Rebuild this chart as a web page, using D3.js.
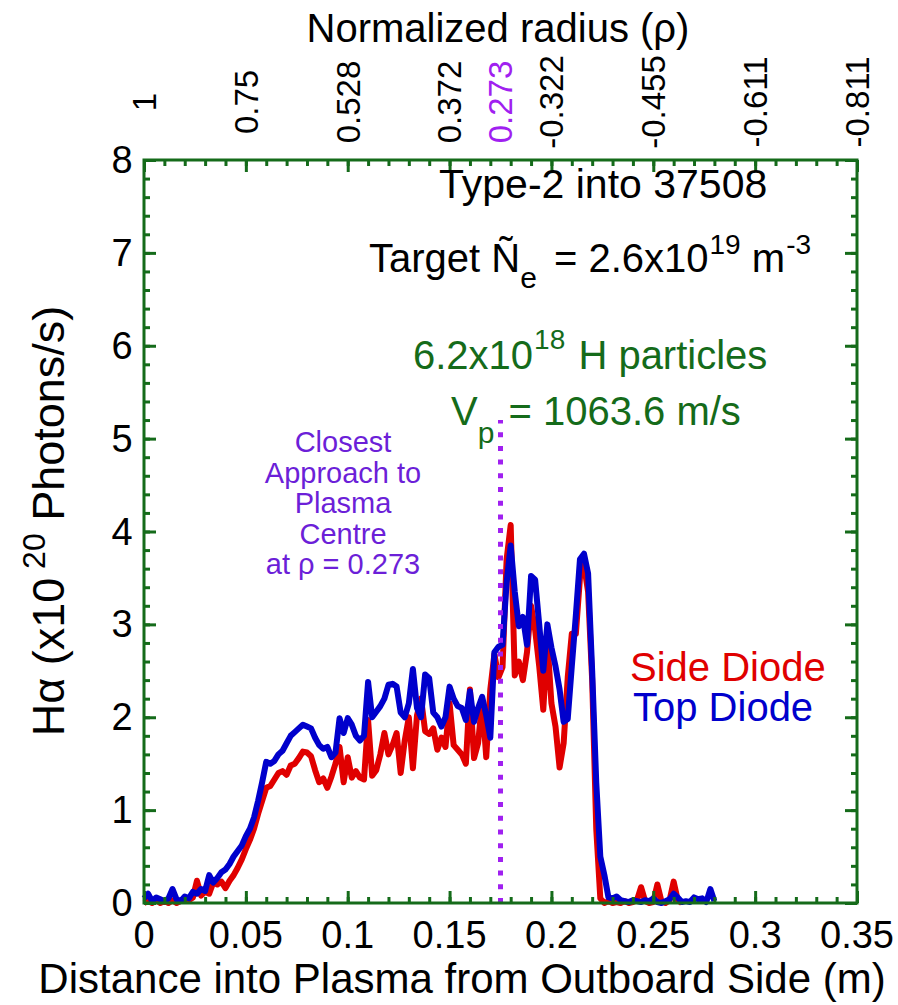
<!DOCTYPE html>
<html>
<head>
<meta charset="utf-8">
<script src="https://cdn.jsdelivr.net/npm/d3@7"></script>
<style>
  html, body { margin: 0; padding: 0; background: #ffffff; }
  svg { display: block; }
  text { font-family: "Liberation Sans", Arial, Helvetica, sans-serif; }
</style>
</head>
<body>
<svg id="chart" width="898" height="1005"></svg>
<script>
// Sample positions along the chord (m), shared by both diode traces
const distance = [
  0.000,0.002,0.004,0.006,0.008,0.010,0.012,0.014,0.016,0.018,
  0.020,0.022,0.024,0.026,0.028,0.030,0.032,0.034,0.036,0.038,
  0.040,0.042,0.044,0.046,0.048,0.050,0.052,0.054,0.056,0.058,
  0.060,0.062,0.064,0.066,0.068,0.070,0.072,0.074,0.076,0.078,
  0.080,0.082,0.084,0.086,0.088,0.090,0.092,0.094,0.096,0.098,
  0.100,0.102,0.104,0.106,0.108,0.110,0.112,0.114,0.116,0.118,
  0.120,0.122,0.124,0.126,0.128,0.130,0.132,0.134,0.136,0.138,
  0.140,0.142,0.144,0.146,0.148,0.150,0.152,0.154,0.156,0.158,
  0.160,0.162,0.164,0.166,0.168,0.170,0.172,0.174,0.176,0.178,
  0.180,0.182,0.184,0.186,0.188,0.190,0.192,0.194,0.196,0.198,
  0.200,0.202,0.204,0.206,0.208,0.210,0.212,0.214,0.216,0.218,
  0.220,0.222,0.224,0.226,0.228,0.230,0.232,0.234,0.236,0.238,
  0.240,0.242,0.244,0.246,0.248,0.250,0.252,0.254,0.256,0.258,
  0.260,0.262,0.264,0.266,0.268,0.270,0.272,0.274,0.276,0.278,
  0.280
];

// H-alpha emission, side-viewing diode (x10^20 photons/s)
const sideDiode = [
  0.00,0.02,0.00,0.03,0.00,0.02,0.00,0.03,0.00,0.02,
  0.05,0.03,0.06,0.24,0.08,0.12,0.10,0.22,0.20,0.23,
  0.16,0.24,0.30,0.38,0.47,0.58,0.68,0.80,0.96,1.10,
  1.24,1.26,1.33,1.40,1.42,1.38,1.48,1.50,1.56,1.63,
  1.62,1.58,1.43,1.30,1.34,1.24,1.36,1.50,1.68,1.30,
  1.57,1.35,1.42,1.35,1.33,1.97,1.37,1.43,1.60,1.83,
  1.60,1.70,1.83,1.40,1.75,2.00,1.45,2.02,2.20,1.85,
  1.82,1.88,1.65,1.78,1.68,2.15,1.70,1.65,1.60,1.50,
  2.30,1.56,1.72,2.18,1.57,2.30,2.68,2.43,2.54,3.70,
  4.07,2.45,2.60,2.40,2.70,3.20,2.94,2.55,2.08,2.83,
  2.15,1.90,1.46,1.72,2.43,2.90,2.90,3.50,3.64,3.35,
  2.40,0.80,0.05,0.00,0.02,0.00,0.01,0.00,0.02,0.00,
  0.01,0.03,0.17,0.02,0.00,0.01,0.20,0.02,0.00,0.03,
  0.23,0.03,0.00
];

// H-alpha emission, top-viewing diode (x10^20 photons/s)
const topDiode = [
  0.05,0.10,0.02,0.06,0.04,0.02,0.05,0.15,0.04,0.02,
  0.07,0.05,0.12,0.10,0.15,0.13,0.30,0.22,0.27,0.33,
  0.36,0.42,0.50,0.56,0.62,0.72,0.80,0.92,1.10,1.30,
  1.52,1.50,1.53,1.60,1.64,1.72,1.80,1.84,1.88,1.92,
  1.90,1.88,1.78,1.70,1.66,1.68,1.57,1.62,1.99,1.83,
  1.99,1.92,1.80,1.75,1.80,2.38,2.00,2.06,2.12,2.20,
  2.35,2.36,2.33,2.05,2.00,2.15,2.52,2.10,2.00,2.46,
  2.42,2.05,2.00,1.90,2.00,2.33,2.20,2.12,2.10,1.97,
  2.28,1.95,2.10,2.22,2.02,1.78,2.70,2.76,2.78,3.45,
  3.85,3.35,2.98,3.08,2.78,3.52,3.48,3.00,2.50,3.00,
  2.75,2.55,2.30,1.95,1.98,2.55,3.10,3.70,3.76,3.55,
  2.50,1.30,0.50,0.30,0.06,0.05,0.07,0.03,0.02,0.01,
  0.03,0.02,0.01,0.03,0.02,0.05,0.01,0.00,0.02,0.04,
  0.10,0.06,0.01,0.02,0.01,0.06,0.04,0.05,0.01,0.15,
  0.02
];

// Bottom axis ticks (m) and left/right axis ticks
const distanceTicks = [0, 0.05, 0.1, 0.15, 0.2, 0.25, 0.3, 0.35];
const distanceTickLabels = ["0", "0.05", "0.1", "0.15", "0.2", "0.25", "0.3", "0.35"];
const emissionTicks = [0, 1, 2, 3, 4, 5, 6, 7, 8];

// Normalized radius read along the top axis
const rhoTickDistance = [0, 0.05, 0.1, 0.15, 0.175, 0.2, 0.25, 0.3, 0.35];
const rhoTickLabels = ["1", "0.75", "0.528", "0.372", "0.273", "-0.322", "-0.455", "-0.611", "-0.811"];

// Closest approach of the pellet to the plasma centre
const closestApproach = 0.175;
const closestApproachTop = 5.2;

const seriesNames = ["Side Diode", "Top Diode"];

const AXIS = "#156b1a";
const RED = "#e00000";
const BLUE = "#0000cc";
const PURPLE = "#a020f0";
const VIOLET = "#6c1fd8";
const GREEN = "#156b1a";

const svg = d3.select("#chart");
const plot = { left: 144, right: 857, top: 160, bottom: 903 };

const x = d3.scaleLinear().domain([0, 0.35]).range([plot.left, plot.right]);
const y = d3.scaleLinear().domain([0, 8]).range([plot.bottom, plot.top]);

// Traces
const line = d3.line().x(d => x(d[0])).y(d => y(d[1]));
const sidePts = sideDiode.map((v, i) => [distance[i], v]);
const topPts = topDiode.map((v, i) => [distance[i], v]);

svg.append("path").datum(sidePts).attr("d", line)
  .attr("fill", "none").attr("stroke", RED).attr("stroke-width", 6)
  .attr("stroke-linejoin", "round");
svg.append("path").datum(topPts).attr("d", line)
  .attr("fill", "none").attr("stroke", BLUE).attr("stroke-width", 6)
  .attr("stroke-linejoin", "round");

// Dotted marker for the closest approach
svg.append("line")
  .attr("x1", x(closestApproach)).attr("x2", x(closestApproach))
  .attr("y1", y(0)).attr("y2", y(closestApproachTop))
  .attr("stroke", PURPLE).attr("stroke-width", 5)
  .attr("stroke-dasharray", "5,8.7");

// Axes (ticks point inward on all four sides)
const minorX = d3.range(0, 0.3501, 0.01);
const minorY = d3.range(0, 8.001, 0.2);

const gB = svg.append("g").attr("transform", `translate(0,${plot.bottom})`)
  .call(d3.axisBottom(x).tickValues(minorX).tickSize(-6).tickFormat(""));
const gT = svg.append("g").attr("transform", `translate(0,${plot.top})`)
  .call(d3.axisTop(x).tickValues(minorX).tickSize(-6).tickFormat(""));
const gL = svg.append("g").attr("transform", `translate(${plot.left},0)`)
  .call(d3.axisLeft(y).tickValues(minorY).tickSize(-6).tickFormat(""));
const gR = svg.append("g").attr("transform", `translate(${plot.right},0)`)
  .call(d3.axisRight(y).tickValues(minorY).tickSize(-6).tickFormat(""));

const gBM = svg.append("g").attr("transform", `translate(0,${plot.bottom})`)
  .call(d3.axisBottom(x).tickValues(distanceTicks).tickSize(-12).tickFormat(""));
const gTM = svg.append("g").attr("transform", `translate(0,${plot.top})`)
  .call(d3.axisTop(x).tickValues(distanceTicks).tickSize(-12).tickFormat(""));
const gLM = svg.append("g").attr("transform", `translate(${plot.left},0)`)
  .call(d3.axisLeft(y).tickValues(emissionTicks).tickSize(-12).tickFormat(""));
const gRM = svg.append("g").attr("transform", `translate(${plot.right},0)`)
  .call(d3.axisRight(y).tickValues(emissionTicks).tickSize(-12).tickFormat(""));

[gB, gT, gL, gR, gBM, gTM, gLM, gRM].forEach(g => {
  g.select(".domain").remove();
  g.selectAll(".tick line").attr("stroke", AXIS).attr("stroke-width", 3);
});

svg.append("rect")
  .attr("x", plot.left).attr("y", plot.top)
  .attr("width", plot.right - plot.left).attr("height", plot.bottom - plot.top)
  .attr("fill", "none").attr("stroke", AXIS).attr("stroke-width", 3);

// Tick labels
svg.append("g").selectAll("text").data(distanceTicks).join("text")
  .attr("x", d => x(d)).attr("y", 948)
  .attr("text-anchor", "middle").attr("font-size", 38).attr("fill", "#000")
  .text((d, i) => distanceTickLabels[i]);

svg.append("g").selectAll("text").data(emissionTicks).join("text")
  .attr("x", 122).attr("y", d => y(d) + 13)
  .attr("text-anchor", "middle").attr("font-size", 38).attr("fill", "#000")
  .text(d => d);

svg.append("g").selectAll("text").data(rhoTickDistance).join("text")
  .attr("transform", d => `translate(${x(d)},102) rotate(-90)`)
  .attr("dy", "0.36em")
  .attr("text-anchor", "middle").attr("font-size", 33)
  .attr("fill", d => d === closestApproach ? PURPLE : "#000")
  .text((d, i) => rhoTickLabels[i]);

// Multi-part text with sub/superscripts; rise lifts the baseline, gap adds space before a part
function richText(parent, px, py, parts, opts) {
  const t = parent.append("text")
    .attr("x", px).attr("y", py)
    .attr("fill", opts.fill || "#000")
    .attr("text-anchor", opts.anchor || "start");
  if (opts.transform) t.attr("transform", opts.transform);
  let rise = 0;
  parts.forEach(p => {
    const r = p.rise || 0;
    t.append("tspan")
      .attr("dx", p.gap || 0)
      .attr("dy", -(r - rise))
      .attr("font-size", p.size)
      .text(p.t);
    rise = r;
  });
  return t;
}

// Axis titles
svg.append("text").attr("x", 498).attr("y", 42)
  .attr("text-anchor", "middle").attr("font-size", 40).text("Normalized radius (ρ)");

svg.append("text").attr("x", 462).attr("y", 993)
  .attr("text-anchor", "middle").attr("font-size", 42)
  .text("Distance into Plasma from Outboard Side (m)");

richText(svg, 0, 0, [
  { t: "Hα (x10", size: 45 },
  { t: " 20", size: 32, rise: 19 },
  { t: " Photons/s)", size: 45, rise: 0 }
], { transform: "translate(64,521) rotate(-90)", anchor: "middle" });

// Shot annotations
svg.append("text").attr("x", 439).attr("y", 198)
  .attr("font-size", 41).text("Type-2 into 37508");

richText(svg, 369, 272, [
  { t: "Target Ñ", size: 40 },
  { t: "e", size: 30, rise: -16 },
  { t: " = 2.6x10", size: 40, rise: 0, gap: 6 },
  { t: "19", size: 28, rise: 18, gap: 1 },
  { t: " m", size: 40, rise: 0 },
  { t: "-3", size: 28, rise: 18, gap: 1 }
], {});

richText(svg, 413, 369, [
  { t: "6.2x10", size: 40 },
  { t: "18", size: 28, rise: 20, gap: 1 },
  { t: " H particles", size: 40, rise: 0, gap: 2 }
], { fill: GREEN });

richText(svg, 451, 425, [
  { t: "V", size: 40 },
  { t: "p", size: 30, rise: -18 },
  { t: " = 1063.6 m/s", size: 40, rise: 0, gap: 3 }
], { fill: GREEN });

// Closest-approach annotation
const caLines = ["Closest", "Approach to", "Plasma", "Centre", "at ρ = 0.273"];
svg.append("g").selectAll("text").data(caLines).join("text")
  .attr("x", 343).attr("y", (d, i) => 452 + i * 30.5)
  .attr("text-anchor", "middle").attr("font-size", 29).attr("fill", VIOLET)
  .text(d => d);

// Legend
svg.append("text").attr("x", 630).attr("y", 681)
  .attr("font-size", 40).attr("fill", RED).text(seriesNames[0]);
svg.append("text").attr("x", 633).attr("y", 721)
  .attr("font-size", 40).attr("fill", BLUE).text(seriesNames[1]);
</script>
</body>
</html>
